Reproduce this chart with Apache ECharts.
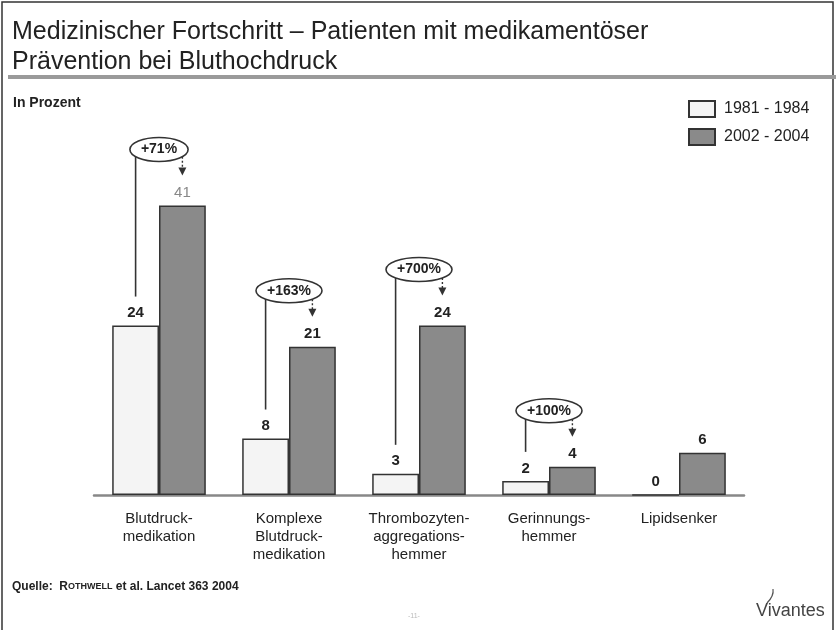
<!DOCTYPE html>
<html>
<head>
<meta charset="utf-8">
<script src="https://cdn.jsdelivr.net/npm/echarts@6/dist/echarts.min.js"></script>
<style>
html,body{margin:0;padding:0;background:#fff;}
#chart{width:836px;height:630px;}
</style>
</head>
<body>
<div id="chart"></div>
<script>
// ---- data ----
const categories = ['Blutdruck-\nmedikation', 'Komplexe\nBlutdruck-\nmedikation', 'Thrombozyten-\naggregations-\nhemmer', 'Gerinnungs-\nhemmer', 'Lipidsenker'];
const seriesNames = ['1981 - 1984', '2002 - 2004'];
const values1981 = [24, 8, 3, 2, 0];
const values2002 = [41, 21, 24, 4, 6];
const changeCats = [0, 1, 2, 3];
const changeLabels = ['+71%', '+163%', '+700%', '+100%'];

const FONT = '"Liberation Sans", Arial, "Noto Sans", sans-serif';
const chart = echarts.init(document.getElementById('chart'), null, {renderer: 'canvas'});

const measureCtx = document.createElement('canvas').getContext('2d');
function textWidth(t, font) { measureCtx.font = font; return measureCtx.measureText(t).width; }

const annData = changeCats.map(i => [i, values1981[i], values2002[i]]);

function renderAnn(params, api) {
  const ci = api.value(0), w = api.value(1), d = api.value(2);
  const cx = api.coord([ci, 0])[0];
  const band = api.size([1, 0])[0];
  const off = band * 0.18;
  const yW = api.coord([ci, w])[1];
  const yD = api.coord([ci, d])[1];
  const cy = yD - 56;
  const txt = changeLabels[params.dataIndex];
  const tw = textWidth(txt, 'bold 14px ' + FONT);
  const rx = tw / 2 + 11, ry = 12;
  const lx = cx - off, rxp = cx + off;
  const yl = cy + ry * Math.sqrt(Math.max(0, 1 - Math.pow((cx - lx) / rx, 2)));
  const stroke = '#333';
  return {
    type: 'group',
    children: [
      {type: 'line', shape: {x1: lx, y1: yl, x2: lx, y2: yW - 29}, style: {stroke: stroke, lineWidth: 1.6}},
      {type: 'line', shape: {x1: rxp, y1: yl, x2: rxp, y2: yD - 37}, style: {stroke: stroke, lineWidth: 1.4, lineDash: [2, 2]}},
      {type: 'polygon', shape: {points: [[rxp - 4, yD - 38], [rxp + 4, yD - 38], [rxp, yD - 30]]}, style: {fill: stroke}},
      {type: 'ellipse', shape: {cx: cx, cy: cy, rx: rx, ry: ry}, style: {fill: '#fff', stroke: stroke, lineWidth: 1.6}},
      {type: 'text', x: cx, y: cy, style: {text: txt, fill: '#222', font: 'bold 14px ' + FONT, align: 'center', verticalAlign: 'middle'}}
    ]
  };
}

const option = {
  backgroundColor: '#fff',
  animation: false,
  title: {
    text: 'Medizinischer Fortschritt – Patienten mit medikamentöser\nPrävention bei Bluthochdruck',
    left: 7, top: 12,
    textStyle: {fontFamily: FONT, fontSize: 25, fontWeight: 'normal', color: '#222', lineHeight: 30}
  },
  legend: {
    data: seriesNames,
    orient: 'vertical',
    left: 683, top: 95,
    itemWidth: 26, itemHeight: 16, itemGap: 10,
    icon: 'rect',
    textStyle: {fontFamily: FONT, fontSize: 16, color: '#222', padding: [0, 0, 0, 4]}
  },
  grid: {left: 94, right: 92, top: 142, bottom: 135},
  xAxis: {
    type: 'category',
    data: categories,
    axisLine: {lineStyle: {color: '#888', width: 2.5}},
    axisTick: {show: false},
    axisLabel: {fontFamily: FONT, fontSize: 15, color: '#222', lineHeight: 18, margin: 15, interval: 0}
  },
  yAxis: {type: 'value', min: 0, max: 50, show: false, splitLine: {show: false}},
  series: [
    {
      name: seriesNames[0], type: 'bar', data: values1981, barWidth: '36%', barGap: '0%',
      itemStyle: {color: '#f4f4f4', borderColor: '#333', borderWidth: 1.5},
      label: {show: true, position: 'top', distance: 5, fontFamily: FONT, fontSize: 15, fontWeight: 'bold', color: '#222'}
    },
    {
      name: seriesNames[1], type: 'bar', barWidth: '36%',
      data: values2002.map((v, i) => i === 0 ? {value: v, label: {color: '#888', fontWeight: 'normal'}} : v),
      itemStyle: {color: '#8a8a8a', borderColor: '#333', borderWidth: 1.5},
      label: {show: true, position: 'top', distance: 5, fontFamily: FONT, fontSize: 15, fontWeight: 'bold', color: '#222'}
    },
    {
      type: 'custom', coordinateSystem: 'cartesian2d', data: annData,
      encode: {x: 0, y: 2}, renderItem: renderAnn, silent: true, z: 5
    }
  ],
  graphic: [
    {type: 'rect', shape: {x: 2, y: 2, width: 831, height: 660}, style: {fill: 'none', stroke: '#333', lineWidth: 1.5}, silent: true},
    {type: 'rect', shape: {x: 8, y: 75, width: 828, height: 4}, style: {fill: '#9a9a9a'}, silent: true},
    {type: 'text', x: 13, y: 96, style: {text: 'In Prozent', font: 'bold 14px ' + FONT, fill: '#222'}},
    {type: 'text', x: 12, y: 581, style: {
      text: '{a|Quelle:  R}{b|OTHWELL}{a| et al. Lancet 363 2004}',
      rich: {
        a: {fontFamily: FONT, fontSize: 12, fontWeight: 'bold', fill: '#222', color: '#222'},
        b: {fontFamily: FONT, fontSize: 9, fontWeight: 'bold', fill: '#222', color: '#222'}
      }
    }},
    {type: 'text', x: 408, y: 613, style: {text: '-11-', font: '7px ' + FONT, fill: '#bbb'}},
    {type: 'text', x: 756, y: 602, style: {text: 'Vivantes', font: '18px ' + FONT, fill: '#444'}},
    {type: 'bezierCurve', shape: {x1: 767, y1: 603, x2: 773, y2: 589, cpx1: 770, cpy1: 600, cpx2: 774, cpy2: 595}, style: {stroke: '#555', lineWidth: 1.2, fill: 'none'}}
  ]
};
chart.setOption(option);
</script>
</body>
</html>
